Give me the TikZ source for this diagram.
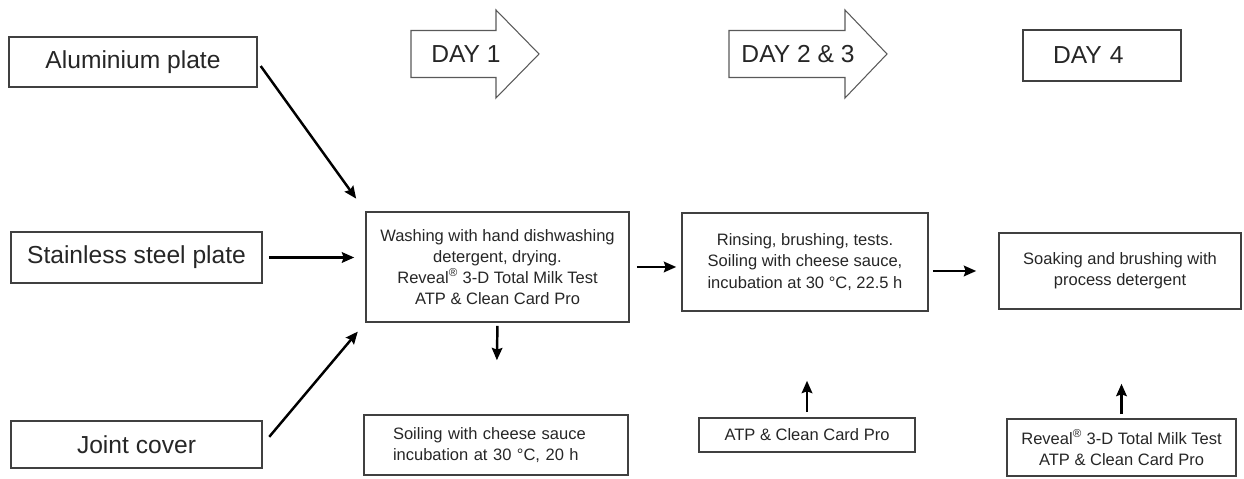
\documentclass[tikz,border=0pt]{standalone}
\usepackage{fontspec}
\setmainfont{Liberation Sans}
\usepackage{tikz}
\usetikzlibrary{arrows.meta}

\newcommand{\bigtxt}{\fontsize{14}{16}\selectfont}
\newcommand{\smalltxt}{\fontsize{9.4}{12}\selectfont}

\begin{document}
\begin{tikzpicture}[>={Stealth[length=7pt,width=6pt,inset=1pt]},x=0.2mm,y=-0.2mm,line join=miter,
                    box node/.style={rectangle,draw=black!75,line width=0.9pt,
                      text=black!85,inner sep=0pt,align=center},
                    plate node/.style={box node,font=\bigtxt,minimum width=5.02cm},
                    task node/.style={box node,font=\smalltxt},
                    day arrow/.style={draw=black!65,line width=0.6pt},
                    arr/.style={->,line width=1.4pt}]
  \useasboundingbox (0,0) rectangle (1244,479);
  % plates
  \node[plate node,minimum width=4.96cm,minimum height=1.0cm] (alu) at (133,62) {Aluminium plate};
  \node[plate node,minimum height=1.02cm] (ss) at (136.5,257.5) {Stainless steel plate};
  \node[plate node,minimum height=0.94cm] (jc) at (136.5,444.5) {Joint cover};
  % days
  \draw[day arrow] (411,30.5) -- (496,30.5) -- (496,10) -- (539,54)
    -- (496,98) -- (496,77.5) -- (411,77.5) -- cycle;
  \draw[day arrow] (729,30.5) -- (845,30.5) -- (845,10) -- (887,54)
    -- (845,98) -- (845,77.5) -- (729,77.5) -- cycle;
  \node[font=\bigtxt,text=black!85] (day1) at (466,54) {DAY 1};
  \node[font=\bigtxt,text=black!85] (day23) at (798,54) {DAY 2 \& 3};
  \node[box node,font=\bigtxt,text width=1.96cm,inner xsep=0.6cm,align=left,
        minimum height=1.02cm] (day4) at (1102,55.5) {DAY 4};
  % steps
  \node[task node,minimum width=5.26cm,minimum height=2.2cm] (wash) at (497.5,267)
    {Washing with hand dishwashing\\detergent, drying.\\Reveal\textsuperscript{\textregistered} 3-D Total Milk Test\\ATP \& Clean Card Pro};
  \node[task node,minimum width=4.92cm,minimum height=1.96cm] (rinse) at (805,262)
    {Rinsing, brushing, tests.\\Soiling with cheese sauce,\\incubation at 30~°C, 22.5~h};
  \node[task node,minimum width=4.84cm,minimum height=1.52cm] (soak) at (1120,271)
    {Soaking and brushing with\\process detergent};
  % tests
  \node[task node,text width=4.12cm,inner xsep=0.58cm,align=left,minimum height=1.2cm] (soil) at (496,445)
    {Soiling with cheese sauce\\incubation at 30~°C, 20~h};
  \node[task node,minimum width=4.32cm,minimum height=0.68cm] (atp) at (807,435) {ATP \& Clean Card Pro};
  \node[task node,minimum width=4.58cm,minimum height=1.14cm] (rev) at (1121.5,447.5)
    {Reveal\textsuperscript{\textregistered} 3-D Total Milk Test\\ATP \& Clean Card Pro};

  \draw[arr,shorten <=0.1cm,shorten >=0.31cm] (alu.east) -- (wash.north west);
  \draw[arr,shorten <=0.12cm,shorten >=0.22cm] (ss.east) -- (ss.east -| wash.west);
  \draw[arr,shorten <=0.2cm,shorten >=0.23cm] (jc.east) -- (wash.south west);
  \draw[arr,shorten <=0.14cm,shorten >=0.1cm] (wash.east) -- (wash.east -| rinse.west);
  \draw[arr,shorten <=0.08cm,shorten >=0.44cm] (soak.west -| rinse.east) -- (soak.west);
  \draw[arr,shorten <=0.06cm,shorten >=1.08cm] (wash.south) -- (soil.north);
  \draw[arr,shorten <=0.1cm,shorten >=1.38cm] (atp.north) -- (atp.north |- rinse.south);
  \draw[arr,shorten <=0.08cm,shorten >=1.48cm] (rev.north) -- (rev.north |- soak.south);
\end{tikzpicture}
\end{document}
